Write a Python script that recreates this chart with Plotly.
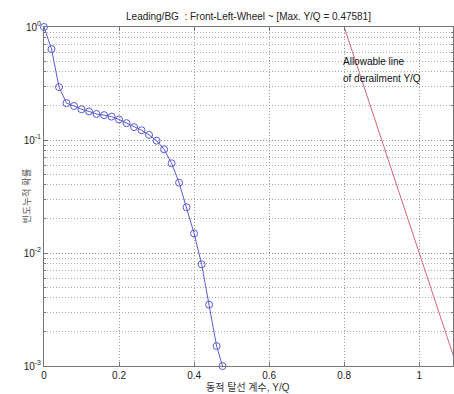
import math
import plotly.graph_objects as go

# Data
yq_values = [0.00, 0.02, 0.04, 0.06, 0.08, 0.10, 0.12, 0.14, 0.16, 0.18,
             0.20, 0.22, 0.24, 0.26, 0.28, 0.30, 0.32, 0.34, 0.36, 0.38,
             0.40, 0.42, 0.44, 0.46, 0.47581]
cum_prob = [1.0, 0.638, 0.294, 0.212, 0.200, 0.187, 0.179, 0.170, 0.166, 0.161,
            0.152, 0.141, 0.130, 0.122, 0.111, 0.0986, 0.0827, 0.0622, 0.0419, 0.0254,
            0.0149, 0.00794, 0.00349, 0.00150, 0.001]
limit_x = [0.8, 1.1]
limit_y = [1.0, 0.001]

x_tickvals = [0, 0.2, 0.4, 0.6, 0.8, 1.0]
x_ticktext = ["0", "0.2", "0.4", "0.6", "0.8", "1"]
y_tickvals = [1e-3, 1e-2, 1e-1, 1e0]
y_ticktext = ["10<sup>-3</sup>", "10<sup>-2</sup>", "10<sup>-1</sup>", "10<sup>0</sup>"]
y_minor = [m * 10 ** e for e in (-3, -2, -1) for m in range(2, 10)]

title_text = "Leading/BG  : Front-Left-Wheel ~ [Max. Y/Q = 0.47581]"
x_title = "동적 탈선 계수, Y/Q"
y_title = "빈도누적 확률"
note_lines = ["Allowable line", "of derailment Y/Q"]
note_y = [0.50, 0.347]

FONT = "Liberation Sans, Arial, Noto Sans CJK KR, sans-serif"
DOT = "1px,2px"
PLOT_W = 409
PLOT_H = 339

fig = go.Figure()
fig.add_trace(go.Scatter(
    x=yq_values, y=cum_prob, mode="lines+markers",
    line=dict(color="#5a5ad2", width=1),
    marker=dict(symbol="circle-open", size=7, color="#5a5ad2", line=dict(width=1)),
    showlegend=False, cliponaxis=False))
fig.add_trace(go.Scatter(
    x=limit_x, y=limit_y, mode="lines",
    line=dict(color="#d86478", width=1), showlegend=False))

for txt, yv in zip(note_lines, note_y):
    fig.add_annotation(x=0.8, y=math.log10(yv), text=txt, showarrow=False,
                       xanchor="left", yanchor="middle", xshift=-3,
                       font=dict(size=10, color="#111"))

# axis titles placed as paper annotations
fig.add_annotation(xref="paper", yref="paper", x=(248 - 44) / PLOT_W, y=-21 / PLOT_H,
                   text=x_title, showarrow=False, xanchor="center", yanchor="middle",
                   font=dict(size=10, color="#333"))
fig.add_annotation(xref="paper", yref="paper", x=(20 - 44) / PLOT_W, y=0.5,
                   text=y_title, showarrow=False, textangle=-90, xshift=6,
                   xanchor="center", yanchor="middle",
                   font=dict(size=9.5, color="#555"))

fig.update_layout(
    width=454, height=394,
    margin=dict(l=44, r=1, t=27, b=28),
    paper_bgcolor="white", plot_bgcolor="white",
    font=dict(family=FONT, size=10, color="#222"),
    title=dict(text=title_text, x=(44 + 453) / 2 / 454, xanchor="center",
               y=1 - 16 / 394, yanchor="middle", yref="container",
               font=dict(size=10, color="#222")),
    xaxis=dict(range=[0, 1.09], tickvals=x_tickvals, ticktext=x_ticktext,
               automargin=False, tickfont=dict(size=10, color="#222"),
               ticks="inside", ticklen=4, tickcolor="#777",
               showline=True, linecolor="#777", linewidth=1, mirror="ticks",
               showgrid=True, gridcolor="#a0a0a0", griddash=DOT, gridwidth=1,
               zeroline=False),
    yaxis=dict(type="log", range=[-3, 0], tickvals=y_tickvals, ticktext=y_ticktext,
               automargin=False, tickfont=dict(size=10, color="#222"),
               ticks="inside", ticklen=4, tickcolor="#777",
               showline=True, linecolor="#777", linewidth=1, mirror="ticks",
               showgrid=True, gridcolor="#909090", griddash=DOT, gridwidth=1,
               zeroline=False,
               minor=dict(tickvals=y_minor, ticks="inside", ticklen=2, tickcolor="#777",
                          showgrid=True, gridcolor="#a8a8a8", griddash=DOT, gridwidth=1)),
)

fig.write_html("out.html", config={"displayModeBar": False},
               post_script="document.body.style.margin='0';document.body.style.overflow='hidden';")
